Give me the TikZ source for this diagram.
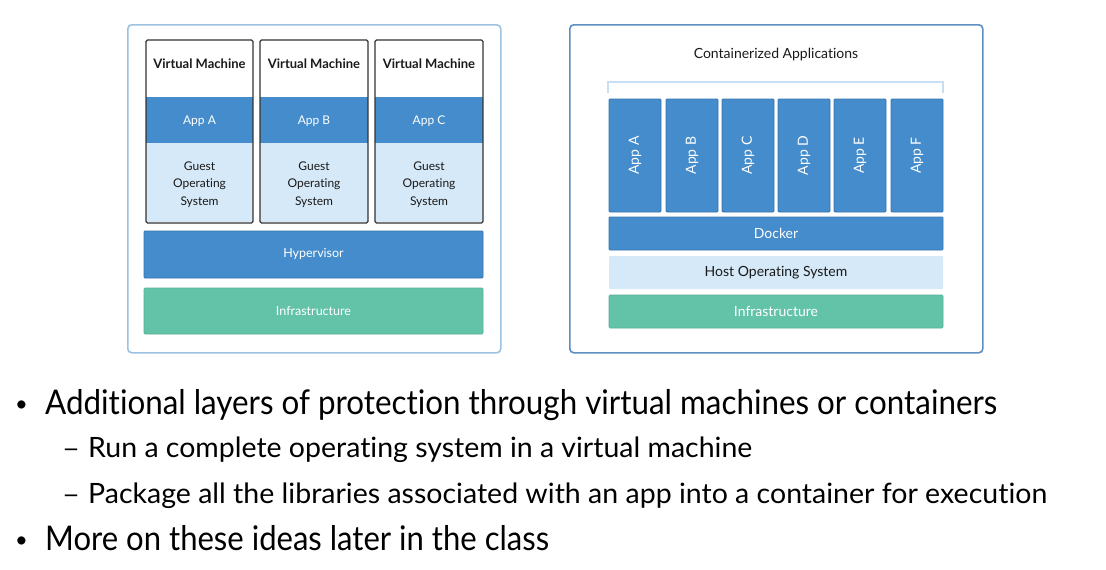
\documentclass[tikz,border=0pt]{standalone}
\usepackage{fontspec}
\usepackage{graphicx}
\setmainfont{Lato}[RawFeature=-liga]
\definecolor{blueF}{HTML}{448CCB}
\definecolor{blueD}{HTML}{3775B0}
\definecolor{lightF}{HTML}{D5E9F8}
\definecolor{greenF}{HTML}{62C3A8}
\definecolor{greenD}{HTML}{55B096}
\definecolor{panelL}{HTML}{9DC2E2}
\definecolor{panelR}{HTML}{5E8FC2}
\definecolor{brk}{HTML}{C8DFF3}
\definecolor{txt}{HTML}{1A1A1A}
\begin{document}
\begin{tikzpicture}[x=1pt,y=-1pt,
  panel/.style={rounded corners=4pt, line width=1.6pt, fill=white},
  blueblk/.style={draw=blueD, fill=blueF, line width=0.8pt, rounded corners=1pt, text=white, inner sep=0pt},
  lightblk/.style={fill=lightF, rounded corners=1pt, text=txt, inner sep=0pt},
  greenblk/.style={draw=greenD, fill=greenF, line width=0.6pt, rounded corners=1pt, text=white, inner sep=0pt},
  vmframe/.style={draw=black!80, line width=1.3pt, rounded corners=1.5pt, inner sep=0pt},
  small/.style={font=\fontsize{12}{17.5}\selectfont},
  mid/.style={font=\fontsize{14}{16}\selectfont},
  bodytxt/.style={anchor=base west, inner sep=0pt, text=black}
]
\useasboundingbox (0,0) rectangle (1106,570);
\fill[white] (0,0) rectangle (1106,570);

% ---------- left panel ----------
\node[panel, draw=panelL, minimum width=373pt, minimum height=328pt, anchor=north west] (pl) at (127,24) {};

\foreach \n/\cx/\w/\ap in {1/199.5/107/A, 2/314/108/B, 3/429/108/C}{
  \node[blueblk, rounded corners=0pt, draw=none, minimum width=\w pt, minimum height=46pt, small] (app\n) at (\cx,120) {};
  \node[small, text=white, inner sep=0pt] (appt\n) at (\cx,121) {App \ap};
  \node[lightblk, rounded corners=0pt, minimum width=\w pt, minimum height=79pt] (guest\n) at (\cx,182.5) {};
  \node[small, text=txt, align=center, inner sep=0pt] (guestt\n) at (\cx,184.5) {Guest\\Operating\\System};
  \node[vmframe, minimum width=\w pt, minimum height=183pt] (vm\n) at (\cx,131.5) {};
  \node[font=\fontsize{13}{15}\bfseries\selectfont, text=txt, inner sep=0pt] (vmt\n) at (\cx,64) {Virtual Machine};
}
\node[blueblk, minimum width=339pt, minimum height=47pt, font=\fontsize{12.5}{14}\selectfont] (hyp) at (313.5,254.5) {Hypervisor};
\node[greenblk, minimum width=339pt, minimum height=46pt, font=\fontsize{12.5}{14}\selectfont] (infL) at (313.5,311) {Infrastructure};

% ---------- right panel ----------
\node[panel, draw=panelR, minimum width=413pt, minimum height=328pt, anchor=north west] (pr) at (569,24) {};
\node[mid, text=txt, inner sep=0pt] (ctitle) at (776,55) {Containerized Applications};
\coordinate (bl) at (608,93);
\coordinate (br) at (943,93);
\draw[brk, line width=2pt] (bl) -- ++(0,-11) -| (br);

\foreach \n/\cx/\ap in {1/635/A, 2/692/B, 3/748/C, 4/804/D, 5/860/E, 6/917/F}{
  \node[blueblk, minimum width=52pt, minimum height=113pt] (capp\n) at (\cx,155.5) {};
  \node[mid, text=white, rotate=90, inner sep=0pt] at (capp\n.center) {App \ap};
}
\node[blueblk, minimum width=334pt, minimum height=33pt, mid] (docker) at (776,233.5) {Docker};
\node[lightblk, minimum width=334pt, minimum height=33pt, mid] (host) at (776,272.5) {Host Operating System};
\node[greenblk, minimum width=334pt, minimum height=33pt, mid] (infR) at (776,311.5) {Infrastructure};

% ---------- bullets ----------
\node[bodytxt] (b1) at (15,411) {\fontsize{22}{22}\selectfont •};
\node[bodytxt] (t1) at (45,414) {\resizebox{952pt}{\height}{\fontsize{34}{34}\selectfont Additional layers of protection through virtual machines or containers}};
\node[bodytxt] (d1) at (62,457) {\resizebox{18pt}{\height}{\fontsize{26}{26}\selectfont –}};
\node[bodytxt] (t2) at (88,457) {\resizebox{664pt}{\height}{\fontsize{28}{28}\selectfont Run a complete operating system in a virtual machine}};
\node[bodytxt] (d2) at (62,503) {\resizebox{18pt}{\height}{\fontsize{26}{26}\selectfont –}};
\node[bodytxt] (t3) at (88,503) {\resizebox{959pt}{\height}{\fontsize{28}{28}\selectfont Package all the libraries associated with an app into a container for execution}};
\node[bodytxt] (b2) at (15,547) {\fontsize{22}{22}\selectfont •};
\node[bodytxt] (t4) at (45,550) {\resizebox{504pt}{\height}{\fontsize{34}{34}\selectfont More on these ideas later in the class}};
\end{tikzpicture}
\end{document}
